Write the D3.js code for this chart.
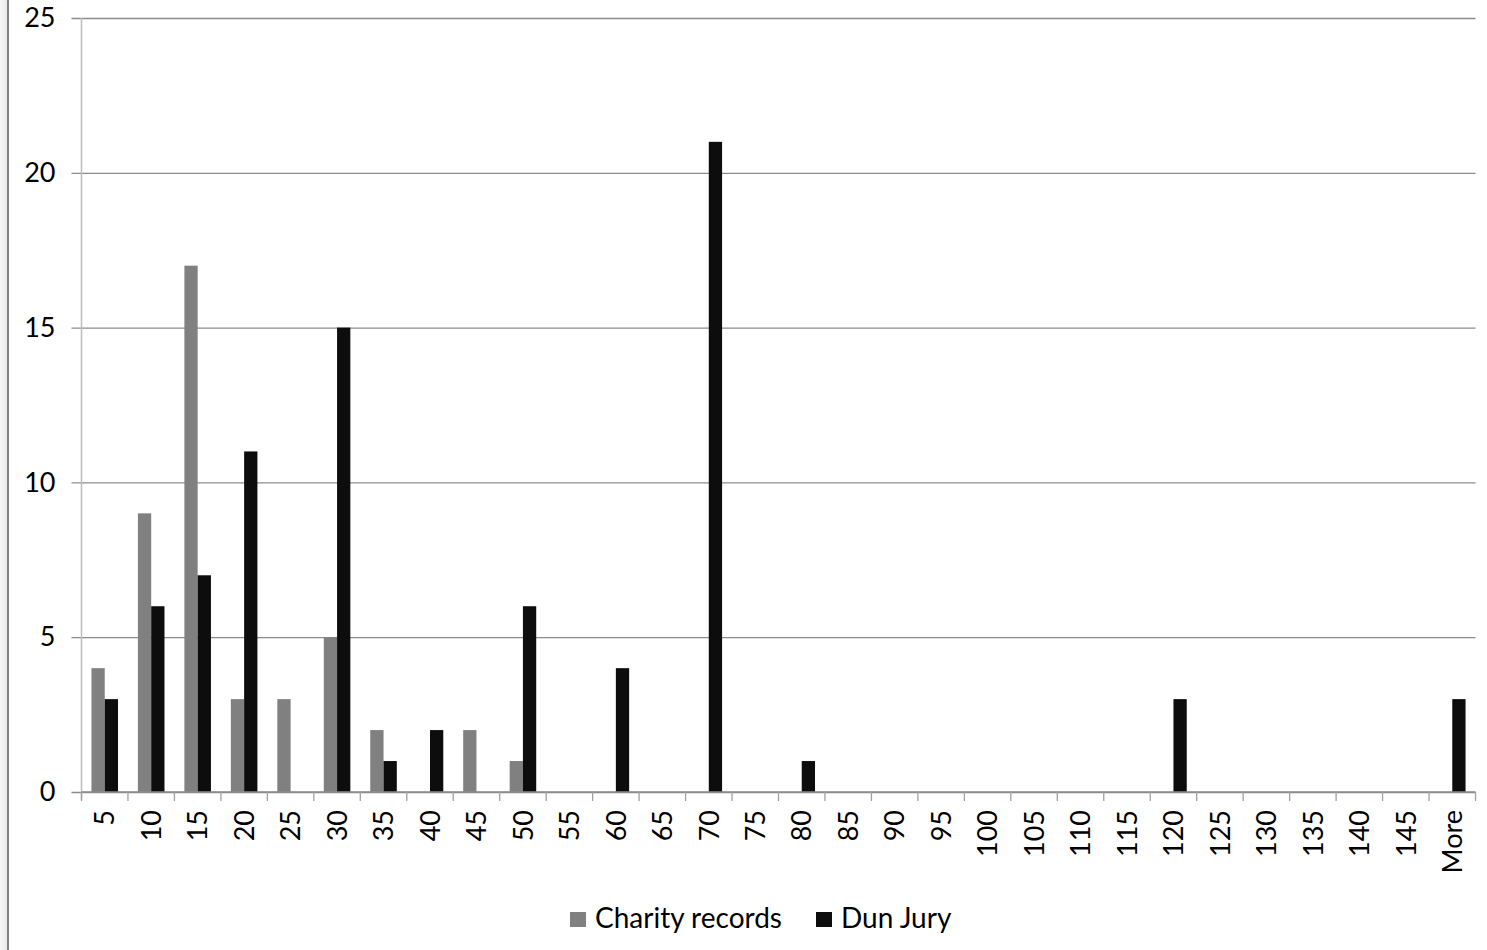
<!DOCTYPE html>
<html>
<head>
<meta charset="utf-8">
<script src="https://cdn.jsdelivr.net/npm/d3@7/dist/d3.min.js"></script>
<style>
  html, body { margin: 0; padding: 0; background: #fff; }
  svg { display: block; }
  text { font-family: Lato, "Open Sans", sans-serif; fill: #000; }
</style>
</head>
<body>
<svg id="chart" width="1487" height="950"></svg>
<script>
// Histogram bins (upper edge of each bin)
const categories = ["5","10","15","20","25","30","35","40","45","50","55","60","65","70","75",
  "80","85","90","95","100","105","110","115","120","125","130","135","140","145","More"];
const seriesNames = ["Charity records", "Dun Jury"];
const charityRecords = [4,9,17,3,3,5,2,0,2,1,0,0,0,0,0,0,0,0,0,0,0,0,0,0,0,0,0,0,0,0];
const dunJury        = [3,6,7,11,0,15,1,2,0,6,0,4,0,21,0,1,0,0,0,0,0,0,0,3,0,0,0,0,0,3];
const yTicks = [0, 5, 10, 15, 20, 25];
const seriesColors = ["#808080", "#0d0d0d"];

const svg = d3.select("#chart");
const W = 1487, H = 950;

// Window frame on the left edge
const defs = svg.append("defs");
const grad = defs.append("linearGradient").attr("id", "edgeShade")
  .attr("x1", "0").attr("x2", "1").attr("y1", "0").attr("y2", "0");
grad.append("stop").attr("offset", "0").attr("stop-color", "#f6f6f6");
grad.append("stop").attr("offset", "1").attr("stop-color", "#e8e8e8");
svg.append("rect").attr("x", 0).attr("y", 0).attr("width", 7).attr("height", H)
  .attr("fill", "url(#edgeShade)");
svg.append("rect").attr("x", 7).attr("y", 0).attr("width", 2).attr("height", H)
  .attr("fill", "#808080");

const plot = { left: 81.5, right: 1475.5, top: 18, bottom: 792 };

const x = d3.scaleBand().domain(categories).range([plot.left, plot.right])
  .paddingInner(0).paddingOuter(0);
const xs = d3.scaleBand().domain(seriesNames).range([0, x.bandwidth()])
  .paddingInner(0).paddingOuter(0.75);
const y = d3.scaleLinear().domain([0, 25]).range([plot.bottom, plot.top]);

// Horizontal gridlines with y labels
const yAxis = d3.axisLeft(y).tickValues(yTicks)
  .tickSize(-(plot.right - plot.left) - 10).tickPadding(16);
const gy = svg.append("g").attr("transform", `translate(${plot.left - 10},0)`).call(yAxis);
gy.select(".domain").remove();
gy.selectAll(".tick line").attr("stroke", "#8c8c8c").attr("stroke-width", 1.3);
gy.selectAll(".tick text").attr("font-size", 27).attr("font-family", "Lato, sans-serif");

// Vertical axis line
svg.append("line")
  .attr("x1", plot.left).attr("x2", plot.left)
  .attr("y1", plot.top).attr("y2", plot.bottom + 8)
  .attr("stroke", "#bdbdbd").attr("stroke-width", 1.5);

// Bars
const rows = categories.map((c, i) => ({ c, vals: [charityRecords[i], dunJury[i]] }));
const groups = svg.append("g").selectAll("g").data(rows).join("g")
  .attr("transform", d => `translate(${x(d.c)},0)`);
groups.selectAll("rect")
  .data(d => d.vals.map((v, k) => ({ name: seriesNames[k], v, k })))
  .join("rect")
  .attr("x", d => xs(d.name))
  .attr("width", xs.bandwidth())
  .attr("y", d => y(d.v))
  .attr("height", d => y(0) - y(d.v))
  .attr("fill", d => seriesColors[d.k]);

// Category axis: boundary ticks and rotated labels
const boundaries = categories.map(c => x(c)).concat([x(categories[categories.length - 1]) + x.bandwidth()]);
svg.append("line")
  .attr("x1", plot.left).attr("x2", plot.right)
  .attr("y1", plot.bottom).attr("y2", plot.bottom)
  .attr("stroke", "#8c8c8c").attr("stroke-width", 1.3);
svg.append("g").selectAll("line").data(boundaries).join("line")
  .attr("x1", d => d).attr("x2", d => d)
  .attr("y1", plot.bottom).attr("y2", plot.bottom + 9)
  .attr("stroke", "#a0a0a0").attr("stroke-width", 1.3);
svg.append("g").selectAll("text").data(categories).join("text")
  .attr("transform", d => `translate(${x(d) + x.bandwidth() / 2},${plot.bottom + 18}) rotate(-90)`)
  .attr("text-anchor", "end")
  .attr("dy", "0.36em")
  .attr("font-size", 27)
  .text(d => d);

// Legend
const legend = svg.append("g").attr("transform", "translate(570,912)");
const legendItems = [{ name: seriesNames[0], x: 0 }, { name: seriesNames[1], x: 246 }];
legendItems.forEach((it, k) => {
  const g = legend.append("g").attr("transform", `translate(${it.x},0)`);
  g.append("rect").attr("width", 16).attr("height", 15).attr("fill", seriesColors[k]);
  g.append("text").attr("x", 25).attr("y", 16).attr("font-size", 28).text(it.name);
});
</script>
</body>
</html>
